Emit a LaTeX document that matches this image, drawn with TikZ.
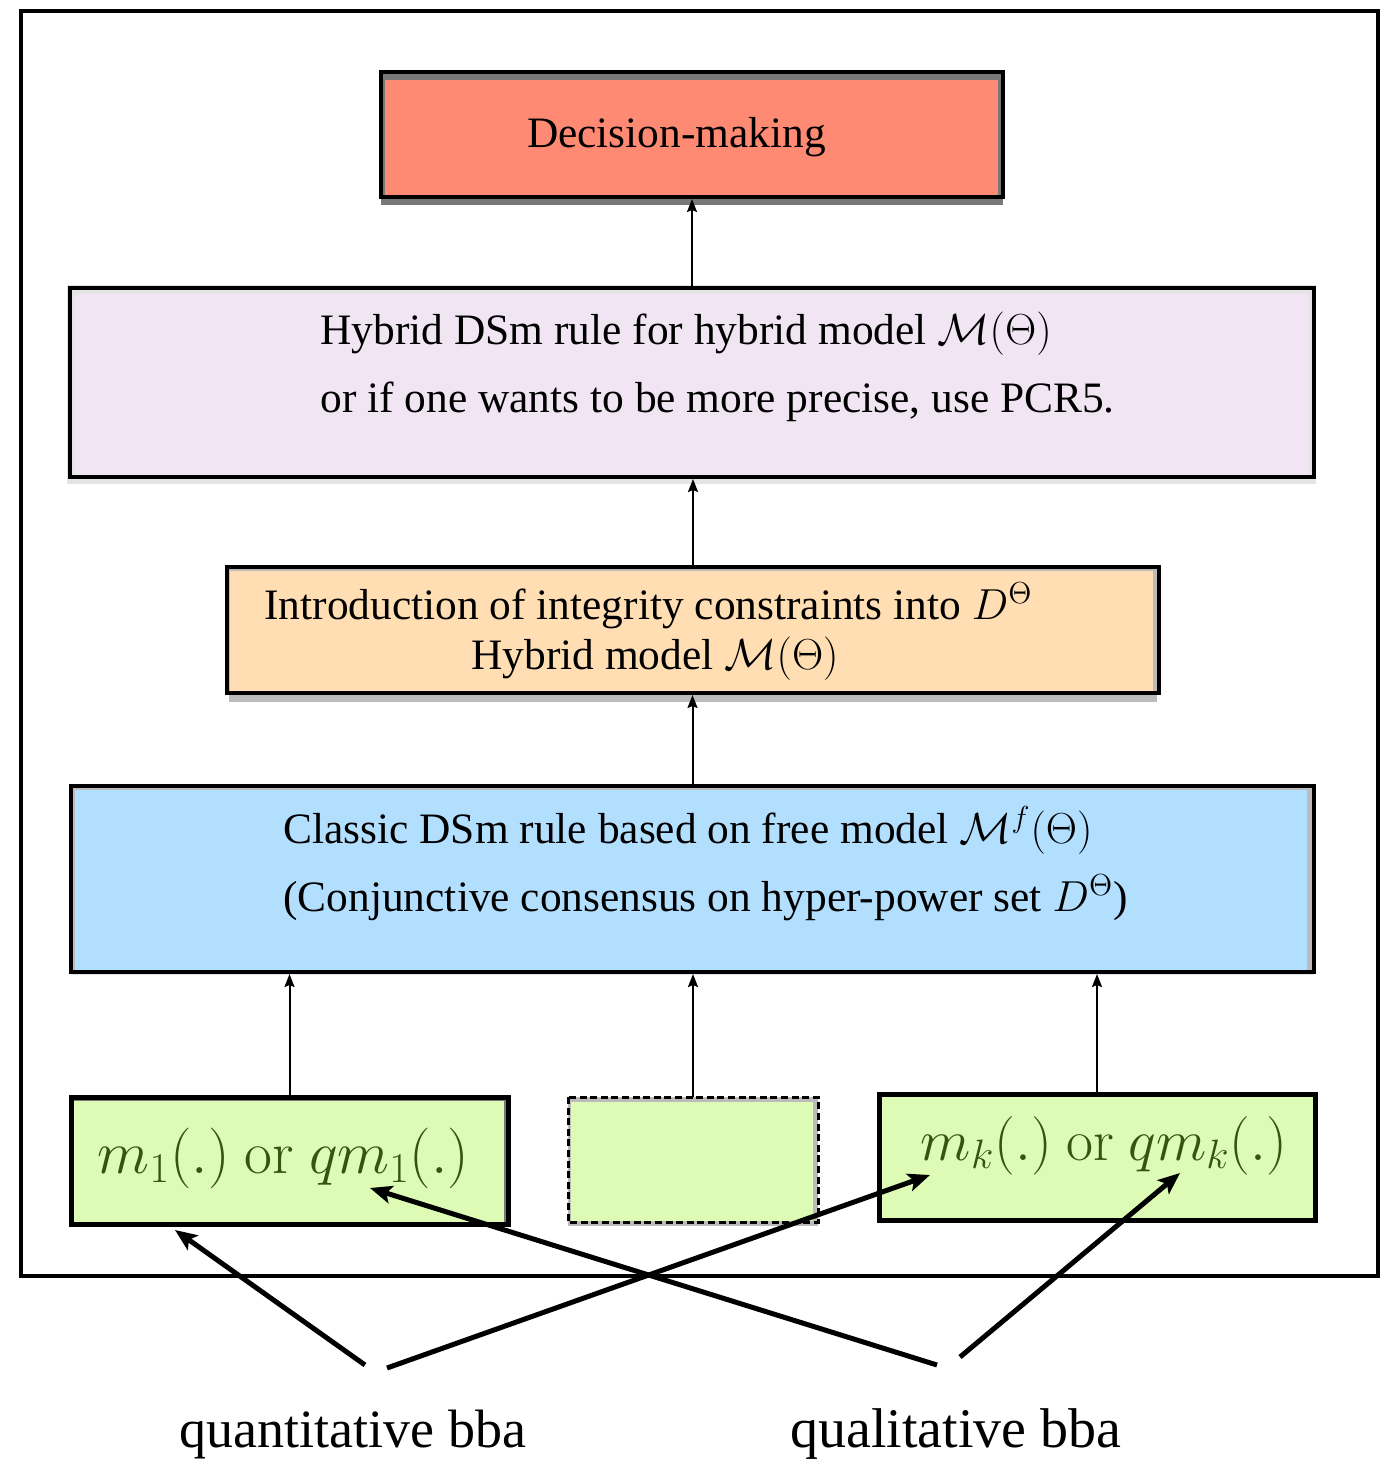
\RequirePackage{fix-cm}
\documentclass[tikz,border=0pt]{standalone}
\usepackage[no-math]{fontspec}
\setmainfont{Liberation Serif}
\usetikzlibrary{arrows.meta,fit,calc}
\definecolor{salmon}{HTML}{FF8A73}
\definecolor{lilac}{HTML}{F1E5F3}
\definecolor{peach}{HTML}{FFDEB3}
\definecolor{skyb}{HTML}{B3DFFF}
\definecolor{limeg}{HTML}{DDFBB5}
\definecolor{dgreen}{HTML}{365410}
\definecolor{shdark}{HTML}{787878}
\definecolor{shmid}{HTML}{BBBBBB}
\definecolor{shlight}{HTML}{E4E4E4}
\begin{document}
\begin{tikzpicture}[x=0.5pt,y=-0.5pt,
  box/.style={inner sep=0pt, outer sep=0pt},
  border/.style={draw=black, line width=2pt},
  txt/.style={inner sep=0pt, font=\fontsize{21.7}{26}\selectfont, anchor=base west},
  gtxt/.style={inner sep=0pt, text=dgreen, anchor=base},
  lbl/.style={inner sep=0pt, font=\fontsize{27}{32}\selectfont, anchor=base},
  varrow/.style={line width=1pt, shorten >=1pt, -{Stealth[length=6.5pt,width=5pt,inset=1pt]}},
  bigarrow/.style={line width=2.5pt, -{Stealth[length=11pt,width=9pt,inset=2.5pt]}},
]
\useasboundingbox (0,0) rectangle (1384,1459);

% outer frame
\node[box, fit={(21,11)(1378,1276)}, draw=black, line width=2pt] (frame) {};

% Decision-making
\fill[shdark] (381,72) rectangle (1003,205);
\node[box, fit={(381,72)(1003,197)}, fill=shdark] (dm) {};
\fill[salmon] ([shift={(4,8)}]dm.north west) rectangle ([shift={(-5,0)}]dm.south east);
\draw[border] (dm.north west) rectangle (dm.south east);
\node[txt, anchor=base] (dmt) at (676.5,148) {Decision-making};

% Hybrid DSm rule
\fill[shlight] (67,285) rectangle (1316,484);
\node[box, fit={(70,288)(1314,477)}, fill=shlight] (pk) {};
\fill[lilac] ([shift={(4,6)}]pk.north west) rectangle ([shift={(-5,-1)}]pk.south east);
\draw[border] (pk.north west) rectangle (pk.south east);
\node[txt] (pk1) at (320,345) {Hybrid DSm rule for hybrid model $\mathcal{M}(\Theta)$};
\node[txt] (pk2) at (320,413) {or if one wants to be more precise, use PCR5.};

% Integrity constraints
\fill[shmid] (229,567) rectangle (1157,702);
\node[box, fit={(227,567)(1159,693)}, fill=shmid] (ic) {};
\fill[peach] ([shift={(3,4)}]ic.north west) rectangle ([shift={(-6,-1)}]ic.south east);
\draw[border] (ic.north west) rectangle (ic.south east);
\node[txt] (ic1) at (264,619) {Introduction of integrity constraints into $D^\Theta$};
\node[txt, anchor=base] (ic2) at (655,669) {Hybrid model $\mathcal{M}(\Theta)$};

% Classic DSm rule
\fill[shlight] (71,786) rectangle (1314,975);
\node[box, fit={(71,786)(1314,972)}, fill=shmid] (bl) {};
\fill[skyb] ([shift={(4,4)}]bl.north west) rectangle ([shift={(-7,-1)}]bl.south east);
\draw[border] (bl.north west) rectangle (bl.south east);
\node[txt] (bl1) at (283,843) {Classic DSm rule based on free model $\mathcal{M}^f(\Theta)$};
\node[txt] (bl2) at (283,911) {(Conjunctive consensus on hyper-power set $D^\Theta$)};

% green sources
\fill[shdark] (73,1100) rectangle (510,1227);
\node[box, fit={(71,1097)(508,1224)}, fill=shdark] (g1) {};
\fill[limeg] ([shift={(3,4)}]g1.north west) rectangle ([shift={(-4,-1)}]g1.south east);
\draw[border, line width=2.5pt] (g1.north west) rectangle (g1.south east);
\node[gtxt, font=\fontsize{30.3}{35}\selectfont] (g1t) at (283.5,1173) {$m_1(.)\ \mathrm{or}\ qm_1(.)$};

\fill[shmid] (568,1097) rectangle (818,1226);
\node[box, fit={(568,1097)(818,1222)}, fill=shmid] (g2) {};
\fill[limeg] ([shift={(3,5)}]g2.north west) rectangle ([shift={(-5,-1)}]g2.south east);
\draw[line width=1.5pt, dash pattern=on 3.5pt off 1.8pt] (g2.north west) rectangle (g2.south east);

\node[box, fit={(879,1094)(1315,1220)}, fill=limeg] (g3) {};
\draw[border, line width=2.5pt] (g3.north west) rectangle (g3.south east);
\node[gtxt, font=\fontsize{29.3}{34}\selectfont] (g3t) at (1104,1160) {$m_k(.)\ \mathrm{or}\ qm_k(.)$};

% vertical connectors
\draw[varrow] (pk.north) -- (pk.north |- dm.south);
\draw[varrow] (ic.north) -- (ic.north |- pk.south);
\draw[varrow] (bl.north) -- (bl.north |- ic.south);
\draw[varrow] (g1.north) -- (g1.north |- bl.south);
\draw[varrow] (g2.north) -- (g2.north |- bl.south);
\draw[varrow] (g3.north) -- (g3.north |- bl.south);

% bottom labels
\node[lbl] (ql) at (353,1447) {quantitative bba};
\node[lbl, font=\fontsize{28}{33}\selectfont] (qt) at (956,1447) {qualitative bba};

% crossing arrows
\coordinate (s1) at (365,1365);
\coordinate (s2) at (387,1368);
\coordinate (s3) at (937,1365);
\coordinate (s4) at (960,1357);
\coordinate (e1) at (175,1230);
\coordinate (e2) at (930,1175);
\coordinate (e3) at (370,1188);
\coordinate (e4) at (1180,1173);
\draw[bigarrow] (s1) -- (e1);
\draw[bigarrow] (s2) -- (e2);
\draw[bigarrow] (s3) -- (e3);
\draw[bigarrow] (s4) -- (e4);
\end{tikzpicture}
\end{document}
